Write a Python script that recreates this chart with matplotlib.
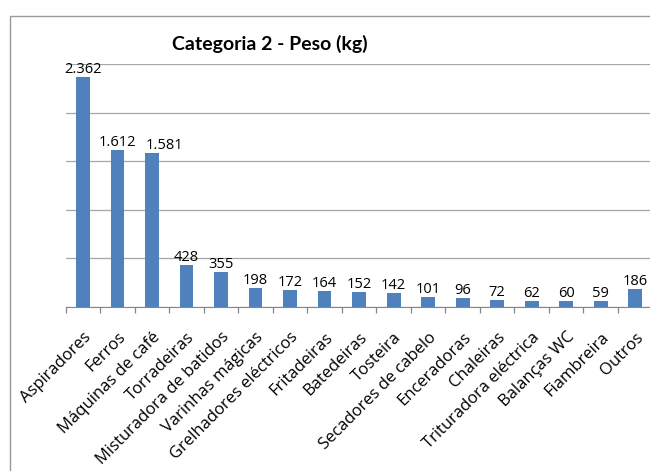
import matplotlib
matplotlib.use("Agg")
import matplotlib.pyplot as plt
import numpy as np
from matplotlib.patches import Rectangle

categories = [
    "Aspiradores", "Ferros", "Máquinas de café", "Torradeiras",
    "Misturadora de batidos", "Varinhas mágicas", "Grelhadores eléctricos",
    "Fritadeiras", "Batedeiras", "Tosteira", "Secadores de cabelo",
    "Enceradoras", "Chaleiras", "Trituradora eléctrica", "Balanças WC",
    "Fiambreira", "Outros",
]
peso = [2362, 1612, 1581, 428, 355, 198, 172, 164, 152, 142, 101, 96, 72, 62, 60, 59, 186]
value_labels = ["2.362", "1.612", "1.581", "428", "355", "198", "172", "164",
                "152", "142", "101", "96", "72", "62", "60", "59", "186"]

plt.rcParams["font.family"] = ["Open Sans", "DejaVu Sans"]

fig = plt.figure(figsize=(6.5, 4.71), dpi=100)
W, H = 650, 471

# outer chart frame (cropped on the right and bottom, like the source)
fig.patches.append(Rectangle((10 / W, -0.05), 1.2, (H - 16) / H + 0.05,
                             transform=fig.transFigure, fill=False,
                             edgecolor="#9a9a9a", linewidth=1.0))

ax = fig.add_axes([65.7 / W, 164 / H, 586.8 / W, 243 / H])
x = np.arange(len(categories))
ax.bar(x, peso, width=0.4, color="#4f81bd", zorder=3)

for i, (xi, v, lab) in enumerate(zip(x, peso, value_labels)):
    # Excel nudged the third label right so it doesn't collide with "1.612"
    dx = 9 if i == 2 else 0
    ax.annotate(lab, (xi, v), xytext=(dx, 0), textcoords="offset points",
                ha="center", va="bottom", fontsize=10.5, color="black")

ax.set_xlim(-0.5, len(categories) - 0.5)
ax.set_ylim(0, 2500)
ax.set_yticks(np.arange(0, 2501, 500))
ax.set_yticklabels([])
ax.tick_params(axis="y", length=0)
ax.grid(axis="y", color="#a6a6a6", linewidth=0.9, zorder=0)

ax.set_xticks(x)
ax.set_xticklabels(categories, rotation=45, ha="right", rotation_mode="anchor",
                   fontsize=12)
ax.tick_params(axis="x", which="major", length=0, pad=16)
ax.set_xticks(np.arange(-0.5, len(categories), 1.0), minor=True)
ax.tick_params(axis="x", which="minor", length=4, color="#868686", width=0.9)

for s in ["top", "right", "left"]:
    ax.spines[s].set_visible(False)
ax.spines["bottom"].set_color("#868686")
ax.spines["bottom"].set_zorder(4)

fig.text(270 / W, 1 - 44 / H, "Categoria 2 - Peso (kg)", ha="center", va="center",
         fontsize=14, fontweight="bold", family=["Lato", "DejaVu Sans"])

fig.savefig("out.png", dpi=100)
